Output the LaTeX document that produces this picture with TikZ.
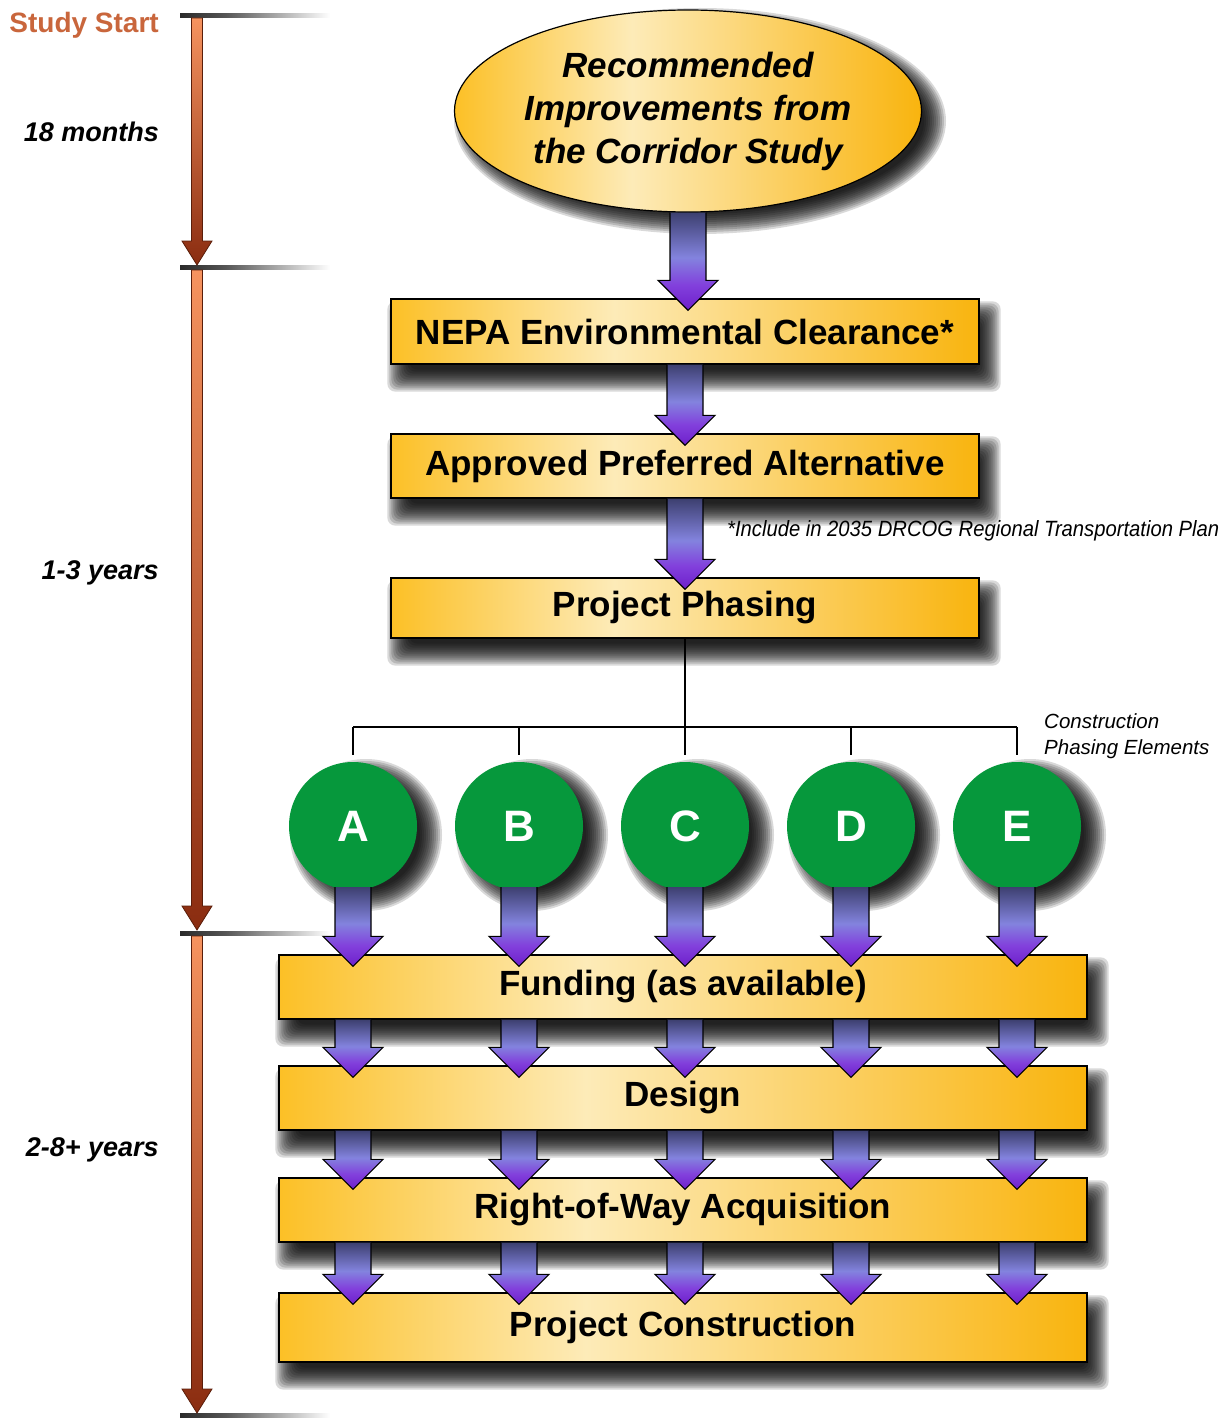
\documentclass[tikz,border=0pt]{standalone}
\usepackage{fontspec}
\setmainfont{Liberation Sans}
\usepackage{graphicx}
\usetikzlibrary{calc,shapes.geometric}

\definecolor{bxA}{HTML}{FCC026}
\definecolor{bxL}{HTML}{FDEBB8}
\definecolor{bxB}{HTML}{F9B40E}
\definecolor{arT}{HTML}{3D4070}
\definecolor{arM}{HTML}{8383DE}
\definecolor{arP}{HTML}{8240DC}
\definecolor{arB}{HTML}{6E1FCB}
\definecolor{tlT}{HTML}{F6935F}
\definecolor{tlB}{HTML}{8A2C10}
\definecolor{tlE}{HTML}{5A1E0A}
\definecolor{circG}{HTML}{06983C}
\definecolor{startC}{HTML}{C9663C}
\definecolor{tickD}{HTML}{2A2A2A}

\pgfdeclarehorizontalshading{boxshade}{100bp}{color(0bp)=(bxA); color(25bp)=(bxA); color(44bp)=(bxL); color(75bp)=(bxB); color(100bp)=(bxB)}
\pgfdeclareverticalshading{arrshade}{100bp}{color(0bp)=(arB); color(25bp)=(arB); color(38bp)=(arP); color(52bp)=(arM); color(75bp)=(arT); color(100bp)=(arT)}
\pgfdeclareverticalshading{tlshade}{100bp}{color(0bp)=(tlB); color(25bp)=(tlB); color(75bp)=(tlT); color(100bp)=(tlT)}
\pgfdeclarehorizontalshading{tickshade}{100bp}{color(0bp)=(tickD); color(25bp)=(tickD); color(40bp)=(tickD!80!white); color(75bp)=(white); color(100bp)=(white)}

\pgfdeclarelayer{bg}
\pgfsetlayers{bg,main}

\newcommand\purparrow[2]{%
  \path[arrowsty] let \p1=(#1), \p2=(#2) in
    (\x1-18pt,\y1) -- (\x1-18pt,\y2+30pt) -- (\x1-30pt,\y2+30pt) -- (\x1,\y2)
    -- (\x1+30pt,\y2+30pt) -- (\x1+18pt,\y2+30pt) -- (\x1+18pt,\y1);
}
\newcommand\tlarrow[2]{%
  \path[tlsty] let \p1=(#1), \p2=(#2) in
    (\x1-5.5pt,\y1) -- (\x1-5.5pt,\y2+24pt) -- (\x1-15pt,\y2+24pt) -- (\x1,\y2)
    -- (\x1+15pt,\y2+24pt) -- (\x1+5.5pt,\y2+24pt) -- (\x1+5.5pt,\y1) -- cycle;
}
% soft shadows built from stacked translucent layers
\newcommand\rectshade[1]{%
  \foreach \k in {0,...,11}{%
    \pgfmathsetmacro\e{12-2*\k}
    \fill[shadowsty, rounded corners=8pt] ($(#1.south west)+(9-\e,15+\e)$) rectangle ($(#1.north east)+(9+\e,15-\e)$);
  }}
\newcommand\circshade[1]{%
  \foreach \k in {0,...,11}{%
    \pgfmathsetmacro\e{12-2*\k}
    \fill[shadowsty] ($(#1.center)+(13,9)$) circle[radius=64+\e];
  }}
\newcommand\ellshade[1]{%
  \foreach \k in {0,...,11}{%
    \pgfmathsetmacro\e{12-2*\k}
    \fill[shadowsty] ($(#1.center)+(12,10)$) ellipse[x radius=234+\e, y radius=101+\e];
  }}

\tikzset{
  shadowsty/.style={black, opacity=0.15},
  arrowsty/.style={shade, shading=arrshade, draw=black, line width=1.2pt, line join=miter},
  tlsty/.style={shade, shading=tlshade, draw=tlE, line width=0.8pt, line join=miter},
  stagebox/.style={draw=black, line width=1.3pt, shade, shading=boxshade, minimum width=588pt, minimum height=64pt, inner sep=0pt, font=\fontsize{35}{40}\selectfont\bfseries},
  widebox/.style={stagebox, minimum width=808pt},
  phasecirc/.style={circle, fill=circG, minimum size=128pt, inner sep=0pt, text=white, font=\fontsize{44}{44}\selectfont\bfseries},
  timelabel/.style={anchor=east, inner sep=0pt, font=\fontsize{27}{30}\selectfont\bfseries\itshape},
  treeline/.style={draw=black, line width=1.5pt},
  tickline/.style={shade, shading=tickshade},
}

\begin{document}
\begin{tikzpicture}[x=1pt,y=-1pt]
\useasboundingbox (0,0) rectangle (1227,1418);
\begin{pgfonlayer}{bg}
\fill[white] (0,0) rectangle (1227,1418);
\end{pgfonlayer}

% timeline
\coordinate (t0) at (197,16);
\coordinate (t1) at (197,267);
\coordinate (t2) at (197,933);
\coordinate (t3) at (197,1415);
\foreach \t in {t0,t1,t2,t3}{
  \path[tickline] ($(\t)+(-17,-2)$) rectangle ($(\t)+(133,2)$);
}
\tlarrow{$(t0)+(0,2)$}{$(t1)+(0,-2)$}
\tlarrow{$(t1)+(0,3)$}{$(t2)+(0,-3)$}
\tlarrow{$(t2)+(0,3)$}{$(t3)+(0,-2)$}

\node[timelabel, text=startC, font=\fontsize{28}{30}\selectfont\bfseries] (start) at (159,25) {Study Start};
\node[timelabel] (m18) at (159,132) {18 months};
\node[timelabel] (y13) at (159,573) {1-3 years};
\node[timelabel] (y28) at (159,1150) {2-8+ years};

% top ellipse
\node[ellipse, draw=black, line width=1.2pt, shade, shading=boxshade, minimum width=467pt, minimum height=202pt, inner sep=0pt, align=center, font=\fontsize{35}{43}\selectfont\bfseries\itshape] (ell) at (688,111) {Recommended\\Improvements from\\the Corridor Study};

% stage boxes
\node[stagebox, minimum height=65pt] (nepa) at (685,331.5) {NEPA Environmental Clearance*};
\node[stagebox] (appr) at (685,466) {Approved Preferred Alternative};
\node[stagebox, minimum height=60pt] (phase) at (685,608) {Project Phasing};

\node[widebox] (fund) at (683,987) {Funding (as available)};
\node[widebox] (design) at (683,1098) {Design};
\node[widebox] (row) at (683,1210) {Right-of-Way Acquisition};
\node[widebox, minimum height=69pt] (constr) at (683,1327.5) {Project Construction};

% footnote and label
\node[anchor=west, inner sep=0pt] (note) at (727,531) {\resizebox{492pt}{16pt}{\fontsize{20}{24}\selectfont\itshape *Include in 2035 DRCOG Regional Transportation Plan}};
\node[anchor=north west, inner sep=0pt, align=left, font=\fontsize{20.5}{26}\selectfont\itshape] (cpe) at (1044,713) {Construction\\Phasing Elements};

% circles
\node[phasecirc] (A) at (353,826) {A};
\node[phasecirc] (B) at (519,826) {B};
\node[phasecirc] (C) at (685,826) {C};
\node[phasecirc] (D) at (851,826) {D};
\node[phasecirc] (E) at (1017,826) {E};

% shadows (behind everything)
\begin{pgfonlayer}{bg}
\ellshade{ell}
\foreach \bx in {nepa,appr,phase,fund,design,row,constr}{\rectshade{\bx}}
\foreach \cn in {A,B,C,D,E}{\circshade{\cn}}
\end{pgfonlayer}

% tree
\coordinate (bus) at (685,727);
\draw[treeline] (phase.south) -- (phase.south |- bus);
\draw[treeline] (A.north |- bus) -- (E.north |- bus);
\foreach \cn in {A,B,C,D,E}{
  \draw[treeline] (\cn.north |- bus) -- ($(\cn.north)+(0,-7)$);
}

% purple arrows
\purparrow{ell.south}{$(nepa.north)+(0,12)$}
\purparrow{nepa.south}{$(appr.north)+(0,12)$}
\purparrow{appr.south}{$(phase.north)+(0,12)$}
\foreach \cn in {A,B,C,D,E}{
  \purparrow{$(\cn.center)+(0,61)$}{$(\cn |- fund.north)+(0,12)$}
  \purparrow{\cn |- fund.south}{$(\cn |- design.north)+(0,12)$}
  \purparrow{\cn |- design.south}{$(\cn |- row.north)+(0,12)$}
  \purparrow{\cn |- row.south}{$(\cn |- constr.north)+(0,12)$}
}
\end{tikzpicture}
\end{document}
